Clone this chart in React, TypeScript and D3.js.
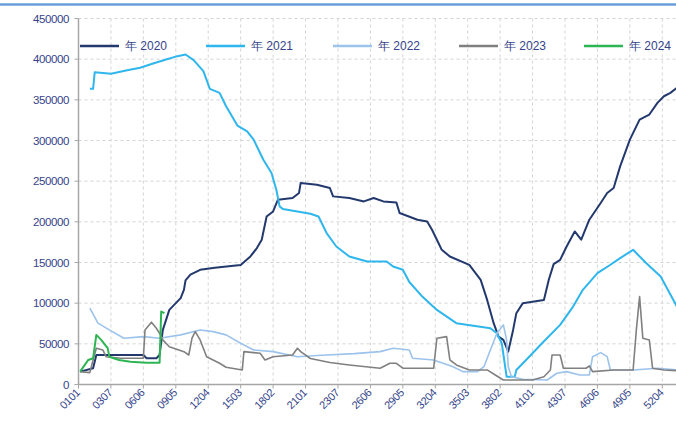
import { useEffect } from 'react'
import * as d3 from 'd3'

// x = day index along the season (0 = "0101"), y = tonnes
const XLABELS = ['0101', '0307', '0606', '0905', '1204', '1503', '1802', '2101', '2307', '2606',
  '2905', '3204', '3503', '3802', '4101', '4307', '4606', '4905', '5204']
const YTICKS = [0, 50000, 100000, 150000, 200000, 250000, 300000, 350000, 400000, 450000]

const s2020: [number, number][] = [
  [1, 15800], [9, 20000], [11, 36300], [40, 36300], [42, 32300], [48, 32300], [50, 36300], [52, 67100],
  [56, 91700], [63, 106200], [65, 116400], [66, 128000], [69, 135000], [75, 141000], [84, 143500],
  [100, 147000], [106, 157400], [110, 167700], [113, 178000], [116, 206600], [120, 212800], [123, 227200],
  [132, 229300], [136, 235500], [137, 247800], [147, 245700], [155, 241600], [157, 231300], [167, 229300],
  [176, 225100], [182, 229300], [188, 225100], [196, 223900], [198, 210800], [209, 202600], [215, 200500],
  [218, 190300], [221, 178000], [224, 165600], [229, 157400], [241, 147000], [248, 128700], [252, 104000],
  [256, 75400], [259, 58900], [262, 54800], [265, 40400], [268, 67100], [270, 87700], [274, 100000],
  [287, 104000], [290, 128700], [293, 148000], [297, 153300], [301, 169700], [306, 188200], [310, 178000],
  [315, 202600], [322, 223200], [326, 235500], [330, 241600], [334, 268200], [340, 301100], [346, 325700],
  [352, 331900], [357, 346300], [361, 354400], [365, 358600], [369, 364800], [372, 368000],
]
const s2021: [number, number][] = [
  [7, 363500], [9, 363500], [10, 384000], [20, 382000], [30, 386400], [38, 389400], [46, 394700],
  [54, 399600], [61, 403700], [66, 405800], [71, 398800], [77, 385200], [81, 363500], [87, 358600],
  [91, 342100], [98, 318300], [104, 311300], [108, 301000], [114, 276400], [119, 260000], [122, 239500],
  [124, 219000], [126, 215700], [135, 212800], [143, 210000], [148, 206600], [153, 186200], [159, 169700],
  [167, 157400], [178, 151200], [190, 151200], [194, 145000], [200, 141000], [204, 126000], [212, 108100],
  [221, 91700], [233, 75400], [254, 69200], [258, 63000], [261, 50700], [264, 9600], [269, 9600],
  [270, 17900], [276, 30200], [286, 51100], [297, 73300], [305, 95800], [311, 116400], [320, 136900],
  [328, 147200], [334, 155400], [342, 165600], [350, 149300], [359, 132800], [369, 95800], [372, 90000],
]
const s2022: [number, number][] = [
  [7, 93800], [12, 75400], [19, 67100], [28, 56900], [40, 58900], [50, 56900], [63, 61000], [75, 67100],
  [83, 65000], [91, 61000], [100, 50700], [108, 42500], [120, 40400], [135, 34200], [150, 36000],
  [170, 38000], [186, 40400], [194, 44600], [204, 42500], [206, 32300], [219, 30200], [231, 21900],
  [237, 15800], [246, 15800], [250, 21900], [254, 42500], [258, 63000], [262, 73300], [264, 54800],
  [265, 21900], [267, 9600], [274, 6400], [289, 5500], [295, 13800], [301, 15800], [309, 11700],
  [315, 11700], [317, 34200], [322, 39200], [326, 34200], [328, 17900], [342, 17900], [357, 20000],
  [369, 17900], [372, 17900],
]
const s2023: [number, number][] = [
  [1, 15800], [7, 14600], [9, 30200], [11, 44600], [15, 42500], [17, 34200], [26, 32300], [40, 32300],
  [41, 67100], [45, 76600], [48, 69200], [50, 63000], [52, 54800], [56, 46500], [65, 40400], [68, 36300],
  [70, 56900], [72, 65000], [75, 54800], [79, 34200], [87, 26100], [91, 21200], [101, 17900], [102, 40400],
  [112, 38400], [115, 30200], [120, 34200], [132, 36300], [135, 44600], [137, 40400], [143, 32000],
  [155, 27000], [167, 24000], [186, 20000], [192, 26100], [196, 26100], [200, 20000], [219, 20000],
  [221, 56900], [227, 58900], [229, 30200], [233, 24000], [241, 17900], [252, 17900], [257, 11700],
  [262, 5500], [280, 5500], [287, 9600], [291, 17900], [292, 36300], [297, 36300], [299, 20000],
  [313, 20000], [315, 22800], [317, 15800], [330, 17900], [342, 17900], [344, 67100], [346, 108100],
  [348, 56900], [352, 54800], [354, 20000], [361, 17900], [369, 17000], [372, 16500],
]
const s2024: [number, number][] = [
  [1, 15800], [6, 30200], [9, 32300], [11, 61000], [14, 54800], [18, 44600], [19, 34200], [25, 30200],
  [32, 28100], [42, 26800], [50, 26800], [51, 89700], [53, 87700],
]

const SERIES = [
  { name: '年 2020', data: s2020, color: '#23396e', w: 2 },
  { name: '年 2021', data: s2021, color: '#2fb6ec', w: 2 },
  { name: '年 2022', data: s2022, color: '#9cc3ec', w: 1.6 },
  { name: '年 2023', data: s2023, color: '#808080', w: 1.6 },
  { name: '年 2024', data: s2024, color: '#2db553', w: 2 },
]
const LEGEND_X = [80, 206, 333, 459, 584]

const W = 676, H = 423
const TEXT = '#34438a'
const FONT = 'Arial, "Liberation Sans", sans-serif'

export default function App() {
  useEffect(() => { document.body.style.margin = '0' }, [])

  const x = d3.scaleLinear().domain([0, 360]).range([78.5, 662.3])
  const y = d3.scaleLinear().domain([0, 450000]).range([384.5, 18.5])
  const line = d3.line<[number, number]>().x((d) => x(d[0])).y((d) => y(d[1]))

  return (
    <svg width={W} height={H} style={{ display: 'block', background: '#fff' }}>
      <line x1={0} x2={W} y1={4.5} y2={4.5} stroke="#6a9fdb" strokeWidth={2.5} />

      {/* grid */}
      {YTICKS.slice(1).map((t) => (
        <line key={t} x1={x(0)} x2={W} y1={y(t)} y2={y(t)} stroke="#d4d4d4" strokeDasharray="3,3" />
      ))}
      {XLABELS.slice(1).map((_, i) => (
        <line key={i} x1={x((i + 1) * 20)} x2={x((i + 1) * 20)} y1={y(450000)} y2={y(0)}
          stroke="#d4d4d4" strokeDasharray="3,3" />
      ))}

      {/* axes */}
      <line x1={x(0)} x2={x(0)} y1={y(450000)} y2={y(0)} stroke="#a6a6a6" strokeWidth={1.5} />
      <line x1={x(0)} x2={W} y1={y(0)} y2={y(0)} stroke="#a6a6a6" strokeWidth={1.5} />
      {YTICKS.map((t) => (
        <g key={t}>
          <line x1={x(0) - 4} x2={x(0)} y1={y(t)} y2={y(t)} stroke="#a6a6a6" />
          <text x={69} y={y(t)} dy="0.35em" textAnchor="end" fontFamily={FONT} fontSize={11.5}
            fill={TEXT} letterSpacing={-0.4}>{t}</text>
        </g>
      ))}
      {XLABELS.map((l, i) => {
        const px = x(i * 20)
        return (
          <g key={l}>
            <line x1={px} x2={px} y1={y(0)} y2={y(0) + 4} stroke="#a6a6a6" />
            <text transform={`translate(${px + 2},${y(0) + 9}) rotate(-45)`} textAnchor="end"
              fontFamily={FONT} fontSize={11} fill={TEXT} letterSpacing={-0.4}>{l}</text>
          </g>
        )
      })}

      {/* series */}
      {SERIES.map((s) => (
        <path key={s.name} d={line(s.data) ?? ''} fill="none" stroke={s.color} strokeWidth={s.w}
          strokeLinejoin="round" />
      ))}

      {/* legend */}
      {SERIES.map((s, i) => (
        <g key={s.name} transform={`translate(${LEGEND_X[i]},46)`}>
          <line x1={0} x2={39} y1={0} y2={0} stroke={s.color} strokeWidth={2.5} />
          <text x={45} y={0} dy="0.35em" fontFamily={FONT} fontSize={12} fill={TEXT}>{s.name}</text>
        </g>
      ))}
    </svg>
  )
}
